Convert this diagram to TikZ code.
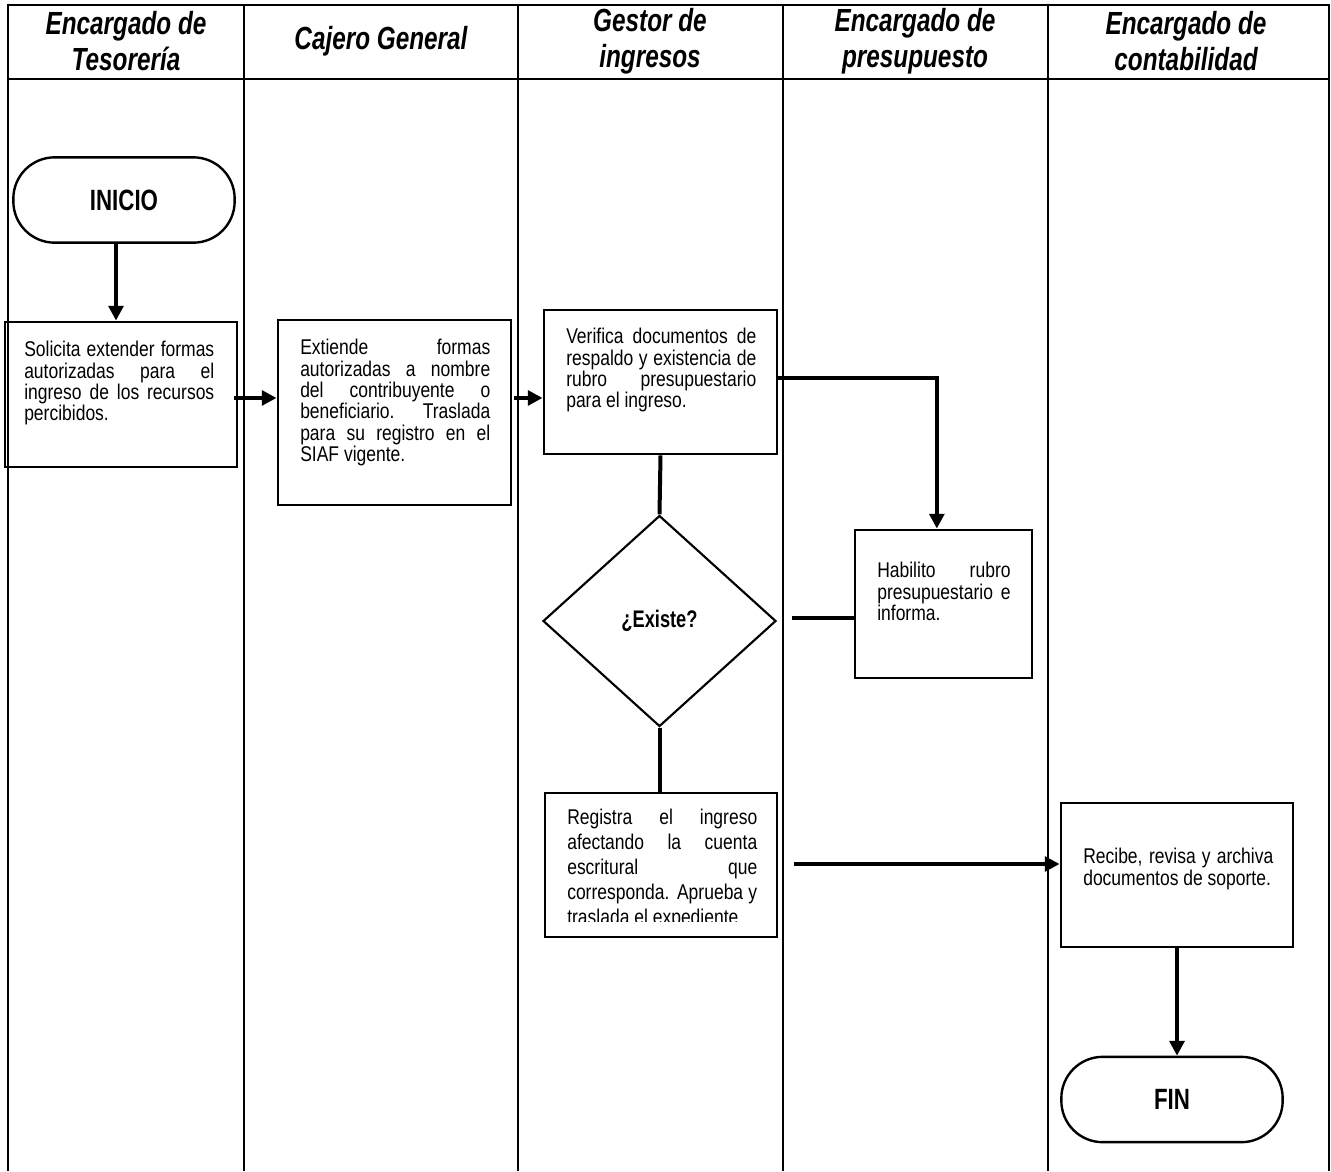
\documentclass[tikz,border=0pt]{standalone}
\usepackage{fontspec}
\setmainfont{Liberation Sans}
\newfontfamily\narrowsans[FakeStretch=0.76]{Liberation Sans}
\newfontfamily\bodysans[FakeStretch=0.82]{Liberation Sans}
\usetikzlibrary{arrows.meta,shapes.geometric}
\begin{document}
\begin{tikzpicture}[x=0.75pt,y=-0.75pt,
  lane/.style={line width=1.5pt},
  frame/.style={line width=2.2pt},
  head/.style={font=\narrowsans\bfseries\itshape\fontsize{24}{27}\selectfont, align=center, inner sep=0pt},
  procbox/.style={draw, line width=2.2pt, inner sep=0pt},
  body/.style={font=\bodysans\fontsize{16}{16}\selectfont, align=justify, inner sep=0pt, anchor=north west, text width=142.5pt},
  term/.style={draw, line width=1.8pt, rounded corners=31pt, minimum width=166pt, minimum height=64pt, inner sep=0pt,
    font=\narrowsans\bfseries\fontsize{22}{24}\selectfont},
  flow/.style={line width=3pt},
  arr/.style={flow, -{Triangle[length=11pt,width=11pt]}},
]
\useasboundingbox (0,0) rectangle (1331,1171);
\fill[white] (0,0) rectangle (1331,1171);

% swimlane table
\draw[frame] (8,1171) -- (8,5) -- (1329,5) -- (1329,1171);
\draw[frame] (8,79) -- (1329,79);
\foreach \lx in {244,518,783,1048} \draw[lane] (\lx,5) -- (\lx,1171);

% lane headings
\node[head] (h1) at (126,41) {Encargado de\\Tesorería};
\node[head] (h2) at (381,41) {Cajero General};
\node[head] (h3) at (650,41) {Gestor de\\ingresos};
\node[head] (h4) at (915,41) {Encargado de\\presupuesto};
\node[head] (h5) at (1186,41) {Encargado de\\contabilidad};

% terminals
\node[term] (ini) at (124,200) {INICIO};
\node[term] (fin) at (1172,1099.5) {FIN};

% process boxes
\node[procbox, minimum width=174pt, minimum height=108.75pt] (b1) at (121,394.5) {};
\node[procbox, minimum width=174.75pt, minimum height=138.75pt] (b2) at (394.5,412.5) {};
\node[procbox, minimum width=174.75pt, minimum height=108pt] (b3) at (660.5,382) {};
\node[procbox, minimum width=132.75pt, minimum height=111pt] (b4) at (943.5,604) {};
\node[procbox, minimum width=174pt, minimum height=108pt] (b5) at (661,865) {};
\node[procbox, minimum width=174pt, minimum height=108pt] (b6) at (1177,875) {};

% decision
\node[diamond, draw, line width=1.6pt, minimum width=174.75pt, minimum height=158.25pt, inner sep=0pt,
  font=\narrowsans\bfseries\fontsize{18}{20}\selectfont] (dia) at (659.5,621) {¿Existe?};

% box texts
\node[body] (t1) at (24,341) {Solicita extender formas\linebreak autorizadas para el\linebreak ingreso de los recursos\linebreak percibidos.};
\node[body] (t2) at (300,339) {Extiende formas\linebreak autorizadas a nombre\linebreak del contribuyente o\linebreak beneficiario. Traslada\linebreak para su registro en el\linebreak SIAF vigente.};
\node[body] (t3) at (566,328) {Verifica documentos de\linebreak respaldo y existencia de\linebreak rubro presupuestario\linebreak para el ingreso.};
\node[body, text width=100pt] (t4) at (877,562) {Habilito rubro\linebreak presupuestario e\linebreak informa.};
\begin{scope}
  % the last line is cut off by the box
  \clip (547,795) rectangle (775,921);
  \node[body, font=\bodysans\fontsize{16}{18.75}\selectfont] (t5) at (567,809) {Registra el ingreso\linebreak afectando la cuenta\linebreak escritural que\linebreak corresponda. Aprueba y\linebreak traslada el expediente};
\end{scope}
\node[body] (t6) at (1083,848) {Recibe, revisa y archiva\linebreak documentos de soporte.};

% connectors
\draw[arr] ([xshift=-6pt]ini.south) -- ([xshift=-6pt]ini.south |- b1.north);
\draw[arr] ([xshift=-3pt,yshift=-2.6pt]b1.east) -- ([yshift=-2.6pt]b1.east -| b2.west);
\draw[arr] ([xshift=1.5pt,yshift=10.9pt]b2.east) -- ([yshift=10.9pt]b2.east -| b3.west);
\draw[arr] ([yshift=3pt]b3.east) -| ([xshift=-5pt]b4.north);
\draw[flow] (b3.south) -- (dia.north);
\coordinate (ret) at (792,618);
\draw[flow] (b4.west |- ret) -- (ret);
\draw[flow] (dia.south) -- (dia.south |- b5.north);
\coordinate (snd) at (794,864);
\draw[arr] (snd) -- (snd -| b6.west);
\draw[arr] (b6.south) -- (b6.south |- fin.north);
\end{tikzpicture}
\end{document}
